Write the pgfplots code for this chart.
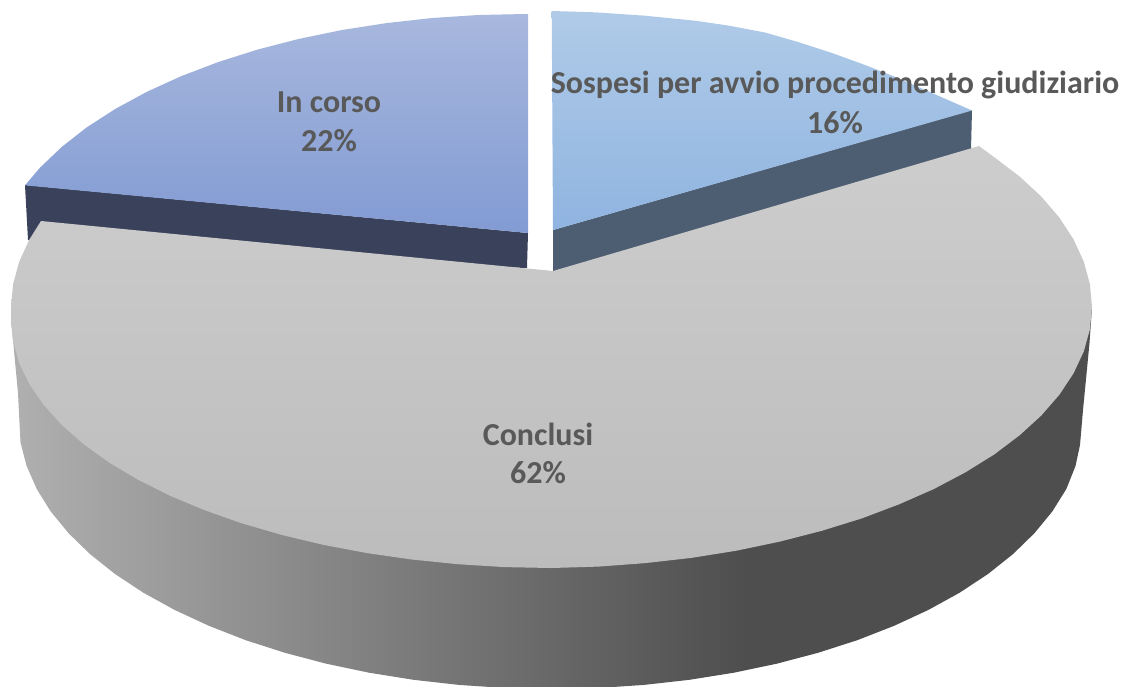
\documentclass[border=0pt]{standalone}
\usepackage{pgfplots}
\pgfplotsset{compat=1.18}
\usepackage{fontspec}
\setmainfont{Carlito}
\definecolor{txt}{HTML}{595959}
\definecolor{sa}{HTML}{B0B0B0}
\definecolor{sb}{HTML}{4E4E4E}
\definecolor{navy}{HTML}{3A425B}
\definecolor{slate}{HTML}{4E5E72}
\definecolor{bluetop}{HTML}{A8B8DE}
\definecolor{bluebot}{HTML}{829BD3}
\definecolor{ltop}{HTML}{B0CBE8}
\definecolor{lbot}{HTML}{8FB4E0}
\definecolor{gtop}{HTML}{CDCDCD}
\definecolor{gbot}{HTML}{BCBCBC}
\pgfdeclarehorizontalshading{sideshade}{100bp}{color(0bp)=(sa); color(25bp)=(sa); color(59bp)=(sb); color(100bp)=(sb)}
\newcommand{\lab}[3]{\node[font=\fontsize{32}{36}\selectfont\bfseries,text=txt,inner sep=0pt] at (axis cs:#1,#2) {#3};}
\begin{document}
\begin{tikzpicture}
\begin{axis}[
  width=1127pt,height=686pt,scale only axis,
  xmin=0,xmax=1127,ymin=0,ymax=686,y dir=reverse,
  enlargelimits=false,hide axis]
\addplot[fill=white,draw=none] coordinates {(0,0)(1127,0)(1127,686)(0,686)} -- cycle;
% In corso: side
\addplot[fill=navy,draw=none] coordinates {(25,185)(528,233)(527,268)(300,260)(28,240)} -- cycle;
% In corso: top
\addplot[top color=bluetop,bottom color=bluebot,draw=none] coordinates {
(25,185.3)(40.1,167.6)(61.7,147)(86.7,127.4)(115.2,109)(146.7,91.9)(181.1,76.2)(218.1,62.1)(257.5,49.6)(298.9,38.9)(342,30)(386.5,23.1)(432.1,18)(478.4,15)(525,14)(528,14)(528,233)} -- cycle;
% Sospesi: side
\addplot[fill=slate,draw=none] coordinates {(553,230)(972,110)(971,150)(553,275)} -- cycle;
% Sospesi: top
\addplot[top color=ltop,bottom color=lbot,draw=none] coordinates {
(551.7,11)(595,12.3)(645,15.7)(695,20.7)(728,25.5)(765,32.5)(798,42)(832,53)(865,65)(898,78)(932,93)(972,110.5)(553,230)} -- cycle;
% Conclusi: side
\addplot[shading=sideshade,draw=none] coordinates {
(11,307)(11,320)(13.3,343)(18,393)(20.5,442.5)(26.6,465.9)(36.7,488.9)(50.6,511.3)(68.5,533.1)(89.9,554)(114.9,573.9)(143.2,592.6)(174.6,609.9)(208.9,625.8)(245.8,640.2)(285,652.8)(326.3,663.7)(369.2,672.7)(413.6,679.8)(459,684.9)(505,688)(551.5,689)(598,688)(644,684.9)(689.4,679.8)(733.8,672.7)(776.7,663.7)(818,652.8)(857.2,640.2)(894.1,625.8)(928.4,609.9)(959.8,592.6)(988.1,573.9)(1013.1,554)(1034.5,533.1)(1052.4,511.3)(1066.3,489)(1075.5,466)(1080,445)(1083,410)(1089.5,343)(1092,307)} -- cycle;
% Conclusi: top
\addplot[top color=gtop,bottom color=gbot,draw=none] coordinates {
(41,221)(553,271)(979,146)(994.3,157.3)(1019.6,176.5)(1041.4,196.7)(1059.4,217.7)(1073.6,239.5)(1083.8,261.7)(1089.9,284.2)(1092,307)
(1089.9,329.4)(1083.8,351.4)(1073.6,373.2)(1059.4,394.7)(1041.4,415.4)(1019.6,435.3)(994.3,454.4)(965.5,472.3)(933.7,489.1)(898.9,504.4)(861.5,518.5)(821.8,530.8)(779.9,541.6)(736.4,550.7)(691.4,557.9)(645.3,563.1)(598.6,566.6)(551.5,568)
(504.4,567.1)(457.7,564.2)(411.6,559.5)(366.6,553)(323.1,544.8)(281.2,534.8)(241.5,523.2)(204.1,510)(169.3,495.4)(137.5,479.4)(108.7,462.3)(83.4,444)(61.6,424.8)(43.6,404.8)(29.4,384.2)(19.2,363.1)(13.1,341.6)(11,320)(11,307)(13.1,284.2)(19.2,261.7)(29.4,239.5)} -- cycle;
\lab{329}{102}{In corso}
\lab{329}{141}{22\%}
\lab{835}{85}{Sospesi per avvio procedimento giudiziario}
\lab{835}{123}{16\%}
\lab{538}{434}{Conclusi}
\lab{538}{473}{62\%}
\end{axis}
\end{tikzpicture}
\end{document}
